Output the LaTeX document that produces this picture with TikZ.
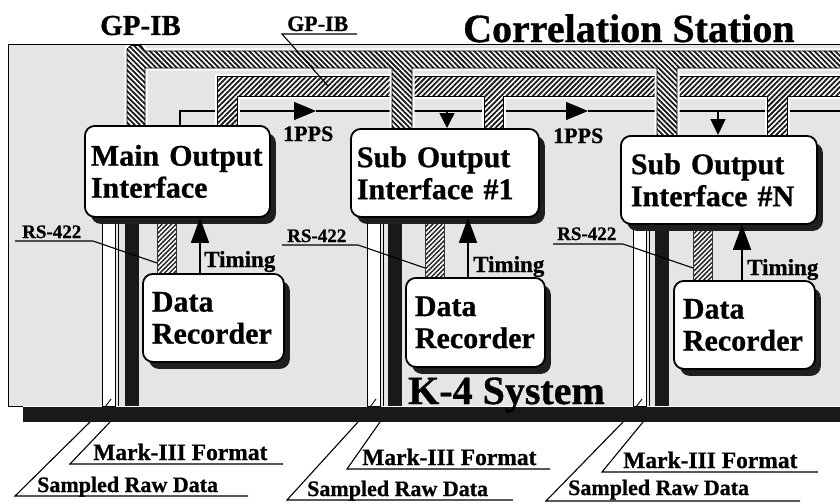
\documentclass[tikz,border=0pt]{standalone}
\usepackage{fontspec}
\setmainfont{Liberation Serif}[BoldFeatures={FakeBold=0.8}]
\usetikzlibrary{patterns.meta,arrows.meta,shadows}
\pgfdeclarelayer{back}
\pgfdeclarelayer{mid}
\pgfsetlayers{back,mid,main}
\tikzset{
  box/.style={draw=black, line width=1.8pt, fill=white, rounded corners=10pt,
    align=left, anchor=north west, inner ysep=0pt,
    font=\bfseries\fontsize{30}{32}\selectfont,
    drop shadow={shadow xshift=6pt, shadow yshift=-7pt, fill=black!88, opacity=1}},
  lbl/.style={anchor=base west, inner sep=0pt, font=\bfseries\fontsize{#1}{#1}\selectfont},
  leader/.style={draw=black, line width=1.1pt},
  pps/.style={draw=black, line width=1.4pt},
  timing/.style={draw=black, line width=1.5pt, -{Triangle[width=18pt,length=25pt]}},
  halo/.style={preaction={draw=white, line width=5pt}, preaction={fill=white}},
  outerband/.style={halo, pattern={Lines[angle=-45,distance=3.7pt,line width=1.8pt]}, pattern color=black!90, draw=black, line width=0.8pt},
  innerband/.style={halo, pattern={Lines[angle=45,distance=3.7pt,line width=1.8pt]}, pattern color=black!90, draw=black, line width=0.8pt},
  rsbar/.style={preaction={fill=white}, pattern={Lines[angle=45,distance=3.3pt,line width=1.5pt]}, pattern color=black!85, draw=black!80, line width=0.5pt},
  channel/.style={fill=white, draw=black, line width=0.8pt},
  thickbar/.style={fill=black!90},
}
\begin{document}
\begin{tikzpicture}[x=1pt,y=-1pt]
\useasboundingbox (0,0) rectangle (840,503);
% ---------- boxes ----------
\node[box, minimum width=185pt, minimum height=91pt, inner xsep=6pt, text width=173pt] (mo) at (84,125) {Main Output\\Interface};
\node[box, minimum width=188pt, minimum height=88pt, inner xsep=6pt, text width=176pt] (s1) at (350,128) {Sub Output\\Interface \#1};
\node[box, minimum width=196pt, minimum height=88pt, inner xsep=10pt, text width=176pt] (sn) at (620,135) {Sub Output\\Interface \#N};
\node[box, minimum width=141pt, minimum height=88pt, inner xsep=9pt, text width=123pt] (mdr) at (142,273) {Data\\Recorder};
\node[box, minimum width=139pt, minimum height=89pt, inner xsep=9pt, text width=121pt] (s1dr) at (405,277) {Data\\Recorder};
\node[box, minimum width=141pt, minimum height=88pt, inner xsep=9pt, text width=123pt] (sndr) at (673,280) {Data\\Recorder};
% ---------- coordinates ----------
\coordinate (pb) at (0,406);
\coordinate (a1) at (316,111);
\coordinate (a2) at (588,111);
\coordinate (rend) at (840,111);
\coordinate (pA) at (180,111);
\coordinate (dB) at (447,111);
\coordinate (dC) at (718,111);
\foreach \n/\c/\k/\h/\t in {A/102/125/157/200, B/367/388/425/468, C/633/655/693/742}{
  \coordinate (ch\n) at (\c,0);
  \coordinate (k\n) at (\k,0);
  \coordinate (h\n) at (\h,0);
  \coordinate (t\n) at (\t,0);
}
% ---------- background layer ----------
\begin{pgfonlayer}{back}
\fill[black!10] (8,45) rectangle (840,406);
\fill[black!90] (23,407) rectangle (840,422);
\draw[pps, -{Triangle[width=18pt,length=22pt]}] (mo.north -| pA) -- (pA) -- (a1);
\draw[pps, -{Triangle[width=18pt,length=22pt]}] (a1) -- (a2);
\draw[pps] (a2) -- (rend);
\draw[pps, -{Triangle[width=15pt,length=15pt]}] (dB) -- (s1.north -| dB);
\draw[pps, -{Triangle[width=15pt,length=16pt]}] (dC) -- (sn.north -| dC);
\path[innerband] (217,128) -- (217,76) -- (845,76) -- (845,96) -- (787,96) -- (787,138) -- (767,138) -- (767,96) -- (503,96) -- (503,131) -- (484,131) -- (484,96) -- (237,96) -- (237,128) -- cycle;
\path[outerband] (127,128) -- (127,49) -- (131,45.5) -- (141,45.5) -- (145,51) -- (845,51) -- (845,68) -- (677,68) -- (677,138) -- (657,138) -- (657,68) -- (412,68) -- (412,131) -- (392,131) -- (392,68) -- (145,68) -- (145,128) -- cycle;
\draw[line width=1pt] (23,406) -- (8,406) -- (8,45) -- (840,45);
\end{pgfonlayer}
% ---------- columns ----------
\begin{pgfonlayer}{mid}
\foreach \n/\bx/\drr in {A/mo/mdr, B/s1/s1dr, C/sn/sndr}{
  \path[channel] (\bx.south -| ch\n) rectangle ([xshift=13pt]pb -| ch\n);
  \draw[line width=0.8pt] ([xshift=16pt]\bx.south -| ch\n) -- ([xshift=16pt]pb -| ch\n);
  \path[thickbar] (\bx.south -| k\n) rectangle ([xshift=13.5pt]pb -| k\n);
  \path[rsbar] (\bx.south -| h\n) rectangle ([xshift=19pt]\drr.north -| h\n);
  \draw[line width=0.9pt] ([xshift=3pt,yshift=-1pt]pb -| ch\n) -- ([xshift=9pt,yshift=7pt]pb -| ch\n);
}
\end{pgfonlayer}
% ---------- timing arrows ----------
\draw[timing] (mdr.north -| tA) -- (mo.south -| tA);
\draw[timing] (s1dr.north -| tB) -- (s1.south -| tB);
\draw[timing] (sndr.north -| tC) -- (sn.south -| tC);
% ---------- labels ----------
\node[lbl=29] (gp1) at (100,35) {GP-IB};
\node[lbl=22] (gp2) at (287,31) {GP-IB};
\draw[leader] (357,34) -- (282,34) -- (328,86);
\node[lbl=40] (cs) at (463,42) {Correlation Station};
\node[lbl=40] (k4) at (408,404) {K-4 System};
\node[lbl=22] (pp1) at (283,141) {1PPS};
\node[lbl=22] (pp2) at (553,143) {1PPS};
\node[lbl=23] (tmA) at (204,267) {Timing};
\node[lbl=23] (tmB) at (473,272) {Timing};
\node[lbl=23] (tmC) at (747,275) {Timing};
\node[lbl=19] (rsA) at (22,238) {RS-422};
\node[lbl=19] (rsB) at (287,242) {RS-422};
\node[lbl=19] (rsC) at (557,240) {RS-422};
\draw[leader] (15,241) -- (93,241) -- (157,263);
\draw[leader] (282,245) -- (358,245) -- (425,268);
\draw[leader] (553,244) -- (623,244) -- (693,268);
% bottom labels
\node[lbl=23.5] (mkA) at (93,460) {Mark-III Format};
\node[lbl=22] (srA) at (37,492) {Sampled Raw Data};
\draw[leader] (110,422) -- (70,464) -- (283,464);
\draw[leader] (90,422) -- (15,496) -- (248,496);
\node[lbl=23.5] (mkB) at (362,465) {Mark-III Format};
\node[lbl=22] (srB) at (307,496) {Sampled Raw Data};
\draw[leader] (380,422) -- (347,469) -- (550,469);
\draw[leader] (358,422) -- (287,500) -- (513,500);
\node[lbl=23.5] (mkC) at (623,468) {Mark-III Format};
\node[lbl=22] (srC) at (568,495) {Sampled Raw Data};
\draw[leader] (643,422) -- (602,472) -- (818,472);
\draw[leader] (623,422) -- (546,501) -- (800,501);
\end{tikzpicture}
\end{document}
